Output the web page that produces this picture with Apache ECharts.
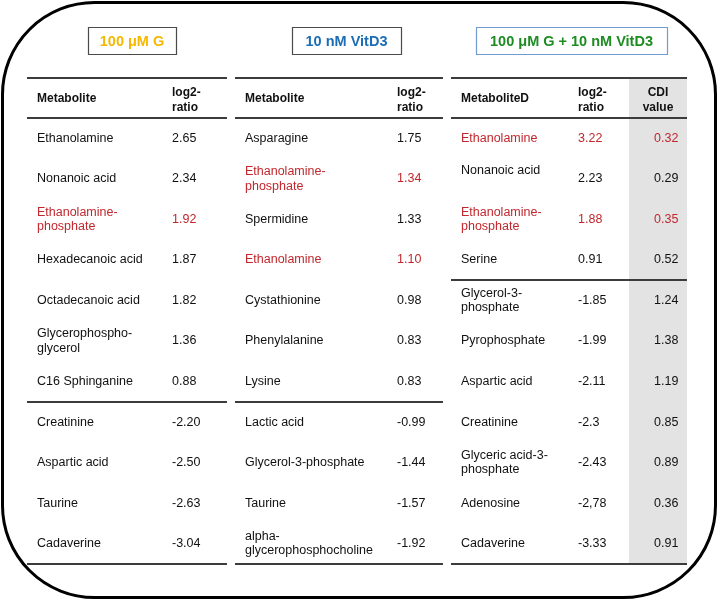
<!DOCTYPE html>
<html><head><meta charset="utf-8">
<script src="https://cdn.jsdelivr.net/npm/echarts@6/dist/echarts.min.js"></script>
<style>html,body{margin:0;padding:0;background:#fff}#c{width:719px;height:602px}</style>
</head><body><div id="c"></div>
<script>
// ---------- data ----------
const titles = ['100 μM G', '10 nM VitD3', '100 μM G + 10 nM VitD3'];
const headerName = ['Metabolite', 'Metabolite', 'MetaboliteD'];
const headerLog = 'log2-\nratio';
const headerCdi = 'CDI\nvalue';

const names1 = ['Ethanolamine', 'Nonanoic acid', 'Ethanolamine-\nphosphate', 'Hexadecanoic acid',
  'Octadecanoic acid', 'Glycerophospho-\nglycerol', 'C16 Sphinganine', 'Creatinine',
  'Aspartic acid', 'Taurine', 'Cadaverine'];
const log2_1 = ['2.65', '2.34', '1.92', '1.87', '1.82', '1.36', '0.88', '-2.20', '-2.50', '-2.63', '-3.04'];
const red1 = [2];

const names2 = ['Asparagine', 'Ethanolamine-\nphosphate', 'Spermidine', 'Ethanolamine',
  'Cystathionine', 'Phenylalanine', 'Lysine', 'Lactic acid', 'Glycerol-3-phosphate',
  'Taurine', 'alpha-\nglycerophosphocholine'];
const log2_2 = ['1.75', '1.34', '1.33', '1.10', '0.98', '0.83', '0.83', '-0.99', '-1.44', '-1.57', '-1.92'];
const red2 = [1, 3];

const names3 = ['Ethanolamine', 'Nonanoic acid', 'Ethanolamine-\nphosphate', 'Serine',
  'Glycerol-3-\nphosphate', 'Pyrophosphate', 'Aspartic acid', 'Creatinine',
  'Glyceric acid-3-\nphosphate', 'Adenosine', 'Cadaverine'];
const log2_3 = ['3.22', '2.23', '1.88', '0.91', '-1.85', '-1.99', '-2.11', '-2.3', '-2.43', '-2,78', '-3.33'];
const cdi3 = ['0.32', '0.29', '0.35', '0.52', '1.24', '1.38', '1.19', '0.85', '0.89', '0.36', '0.91'];
const red3 = [0, 2];

// ---------- layout / style ----------
const FONT = '"Liberation Sans", Arial, sans-serif';
const RED = '#C1272D', INK = '#111', LINE = '#3c3c3c';
const tables = [
  { left: 27, width: 200, nameX: 10, valX: 145, names: names1, vals: log2_1, red: red1 },
  { left: 235, width: 208, nameX: 10, valX: 162, names: names2, vals: log2_2, red: red2 },
  { left: 451, width: 236, nameX: 10, valX: 127, cdiX: 203, names: names3, vals: log2_3, cdi: cdi3, red: red3,
    nameDy: { 1: -8 } }
];
const GRID_TOP = 118, GRID_H = 446, HEAD_TOP = 78;

const chart = echarts.init(document.getElementById('c'), null, { renderer: 'canvas' });

const grids = [], xAxes = [], yAxes = [], series = [];
tables.forEach((t, k) => {
  grids.push({ left: t.left, width: t.width, top: GRID_TOP, height: GRID_H, containLabel: false });
  xAxes.push({ type: 'value', gridIndex: k, min: 0, max: t.width, show: false });
  yAxes.push({ type: 'category', gridIndex: k, data: t.names, inverse: true, show: false });
  const firstNeg = t.vals.findIndex(v => parseFloat(v.replace(',', '.')) < 0);
  series.push({
    type: 'custom', xAxisIndex: k, yAxisIndex: k, z: 5, silent: true,
    data: t.names.map((n, i) => [0, i]),
    renderItem: function (params, api) {
      const i = api.value(1);
      const p = api.coord([0, i]);
      const bandH = api.size([0, 1])[1];
      const col = t.red.indexOf(i) >= 0 ? RED : INK;
      const dy = (t.nameDy && t.nameDy[i]) || 0;
      const ch = [
        { type: 'text', style: { text: t.names[i], x: p[0] + t.nameX, y: p[1] + dy, fill: col,
          font: '12.5px ' + FONT, align: 'left', verticalAlign: 'middle', lineHeight: 14.5 } },
        { type: 'text', style: { text: t.vals[i], x: p[0] + t.valX, y: p[1], fill: col,
          font: '12.5px ' + FONT, align: 'left', verticalAlign: 'middle' } }
      ];
      if (t.cdi) {
        ch.push({ type: 'text', style: { text: t.cdi[i], x: p[0] + t.cdiX, y: p[1], fill: col,
          font: '12.5px ' + FONT, align: 'left', verticalAlign: 'middle' } });
      }
      if (i === firstNeg) {
        const yy = Math.round(p[1] - bandH / 2);
        ch.push({ type: 'line', shape: { x1: p[0], y1: yy, x2: p[0] + t.width, y2: yy },
          style: { stroke: LINE, lineWidth: 2 } });
      }
      return { type: 'group', children: ch };
    }
  });
});

// static graphics: frame, titles, header, rules
const g = [];
g.push({ type: 'rect', z: 100, shape: { x: 2.5, y: 2.5, width: 713, height: 595, r: 92 },
  style: { fill: 'none', stroke: '#000', lineWidth: 3 } });
// gray CDI column
g.push({ type: 'rect', z: 0, shape: { x: 629, y: HEAD_TOP, width: 58, height: GRID_TOP + GRID_H - HEAD_TOP },
  style: { fill: '#E3E3E3' } });
const boxes = [
  { x: 88, w: 88, color: '#F5B700', stroke: '#4a4a4a' },
  { x: 292, w: 109, color: '#1B6DB5', stroke: '#4a4a4a' },
  { x: 476, w: 191, color: '#1E8C22', stroke: '#6F9BD1' }
];
boxes.forEach((b, k) => {
  g.push({ type: 'rect', z: 10, shape: { x: b.x + 0.5, y: 27.5, width: b.w, height: 27 },
    style: { fill: '#fff', stroke: b.stroke, lineWidth: 1.2 } });
  g.push({ type: 'text', z: 11, style: { text: titles[k], x: b.x + b.w / 2, y: 41.5, fill: b.color,
    font: 'bold 14.5px ' + FONT, align: 'center', verticalAlign: 'middle' } });
});
tables.forEach((t, k) => {
  [HEAD_TOP, GRID_TOP, GRID_TOP + GRID_H].forEach(y => {
    g.push({ type: 'line', z: 10, shape: { x1: t.left, y1: y, x2: t.left + t.width, y2: y },
      style: { stroke: LINE, lineWidth: 2 } });
  });
  g.push({ type: 'text', z: 11, style: { text: headerName[k], x: t.left + t.nameX, y: 99, fill: INK,
    font: 'bold 12px ' + FONT, align: 'left', verticalAlign: 'middle' } });
  g.push({ type: 'text', z: 11, style: { text: headerLog, x: t.left + t.valX, y: 100, fill: INK,
    font: 'bold 12px ' + FONT, align: 'left', verticalAlign: 'middle', lineHeight: 14.5 } });
  if (t.cdi) {
    g.push({ type: 'text', z: 11, style: { text: headerCdi, x: 658, y: 100, fill: INK,
      font: 'bold 12px ' + FONT, align: 'center', verticalAlign: 'middle', lineHeight: 14.5 } });
  }
});

chart.setOption({
  animation: false,
  backgroundColor: '#fff',
  grid: grids, xAxis: xAxes, yAxis: yAxes, series: series,
  graphic: { elements: g }
});
</script></body></html>
